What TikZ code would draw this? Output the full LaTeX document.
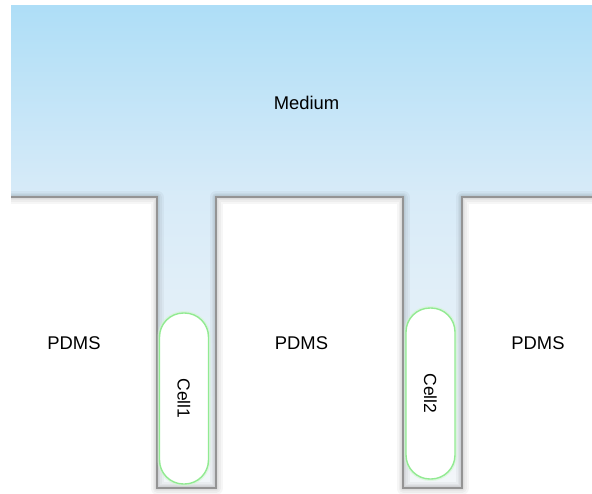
\documentclass[tikz,border=0pt]{standalone}
\usepackage{fontspec}
\setmainfont{Liberation Sans}
\usetikzlibrary{positioning}
\colorlet{background}{white}
\colorlet{penColor}{black!42}
\definecolor{mediumTop}{RGB}{174,222,247}
\definecolor{mediumMid}{RGB}{216,235,248}
\definecolor{mediumLow}{RGB}{243,246,249}
\definecolor{cellColor}{RGB}{146,234,146}
\tikzset{
  wall/.style={draw=penColor,line width=1.8pt,line join=miter},
  wallshadow/.style={draw=black,opacity=.035,line join=round},
  label/.style={font=\fontsize{18.4}{22}\selectfont,inner sep=0pt},
  cellbox/.style={draw=cellColor,line width=1.4pt,fill=white,
    rounded corners=24pt,rotate=-90,minimum width=171pt,minimum height=49pt,
    inner sep=0pt,font=\fontsize{17.5}{21}\selectfont,
    preaction={draw=cellColor!40,line width=4pt,opacity=.6}}
}

\begin{document}
\begin{tikzpicture}[x=1pt,y=-1pt]
      \useasboundingbox (0,0) rectangle (592,493);
      \coordinate (A) at (11,197);
      \coordinate (B) at (157,197);
      \coordinate (C) at (157,488);
      \coordinate (D) at (216,488);
      \coordinate (E) at (216,197);
      \coordinate (F) at (403,197);
      \coordinate (G) at (403,488);
      \coordinate (H) at (462,488);
      \coordinate (I) at (462,197);
      \coordinate (J) at (592,197);
      \shade[top color=mediumTop,bottom color=mediumMid] (11,5) rectangle (J);
      \shade[top color=mediumMid,bottom color=mediumLow] (B) rectangle (D);
      \shade[top color=mediumMid,bottom color=mediumLow] (F) rectangle (H);
      \foreach \w in {13,9,6,4}
            \draw[wallshadow,line width=\w pt,yshift=-2pt]
                  (A) -- (B) -- (C) -- (D) -- (E) -- (F) -- (G) -- (H) -- (I) -- (J);
      \draw[wall] (A) -- (B) -- (C) -- (D) -- (E) -- (F) -- (G) -- (H) -- (I) -- (J);
      \node[cellbox] (cell1) at (184,398.5) {Cell1};
      \node[cellbox] (cell2) at (430.5,393.5) {Cell2};
      \node[label] (medium) at (306.5,102.5) {Medium};
      \node[label] (pdms1) at (74,343) {PDMS};
      \node[label] (pdms2) at (301.5,343) {PDMS};
      \node[label] (pdms3) at (538,343) {PDMS};
\end{tikzpicture}
\end{document}
